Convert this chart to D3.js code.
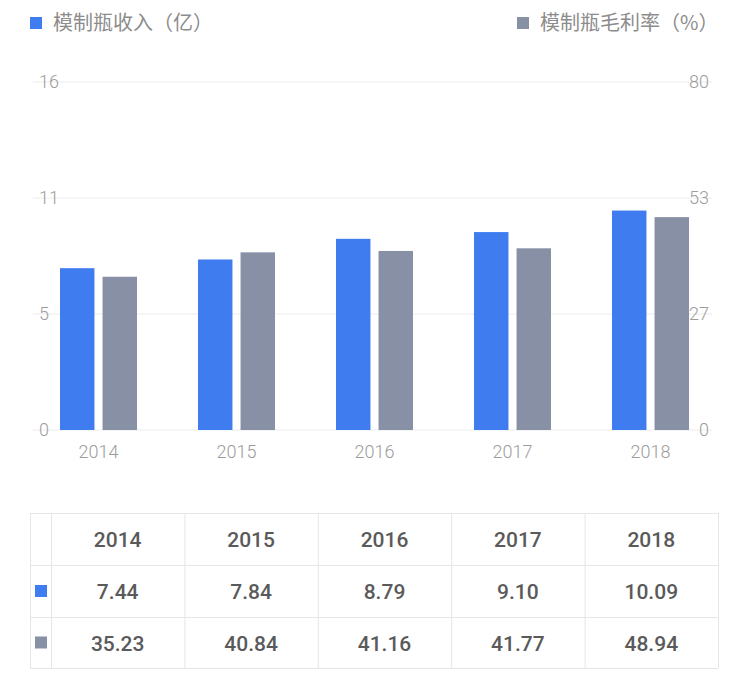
<!DOCTYPE html>
<html>
<head>
<meta charset="utf-8">
<script src="https://cdn.jsdelivr.net/npm/d3@7"></script>
<style>
  body { margin: 0; background: #fff; }
  text { font-family: "Noto Sans", "Noto Sans CJK SC", sans-serif; }
  .ax { font-family: Roboto, "Noto Sans", sans-serif; font-weight: 300; font-size: 18px; fill: #9c9c9c; }
</style>
</head>
<body>
<script>
const years = ["2014", "2015", "2016", "2017", "2018"];
const revenue = [7.44, 7.84, 8.79, 9.10, 10.09];   // 模制瓶收入（亿）
const margin = [35.23, 40.84, 41.16, 41.77, 48.94]; // 模制瓶毛利率（%）
const leftTicks = ["0", "5", "11", "16"];
const rightTicks = ["0", "27", "53", "80"];
const seriesNames = ["模制瓶收入（亿）", "模制瓶毛利率（%）"];

const blue = "#3f7cf0", grey = "#8790a4";

const width = 750, height = 673;
const svg = d3.select("body").append("svg")
    .attr("width", width)
    .attr("height", height);

// scales
const x = d3.scaleBand()
    .domain(years)
    .range([29.5, 719.5])
    .paddingInner(0.442)
    .paddingOuter(0.221);

const xs = d3.scaleBand()
    .domain([0, 1])
    .range([0, x.bandwidth()])
    .paddingInner(0.19);

const yL = d3.scaleLinear().domain([0, 16]).range([430, 82]);
const yR = d3.scaleLinear().domain([0, 80]).range([430, 82]);

// grid + tick labels
const gridVals = d3.range(4).map(i => i * 16 / 3);
svg.append("g").selectAll("line")
    .data(gridVals)
    .enter().append("line")
    .attr("x1", 33).attr("x2", 712)
    .attr("y1", d => yL(d)).attr("y2", d => yL(d))
    .attr("stroke", "#ececec")
    .attr("stroke-width", 1);

svg.append("g").selectAll("text")
    .data(leftTicks)
    .enter().append("text")
    .attr("class", "ax")
    .attr("x", 39)
    .attr("y", (d, i) => yL(gridVals[i]))
    .attr("dy", "0.35em")
    .text(d => d);

svg.append("g").selectAll("text")
    .data(rightTicks)
    .enter().append("text")
    .attr("class", "ax")
    .attr("x", 709)
    .attr("y", (d, i) => yR(i * 80 / 3))
    .attr("dy", "0.35em")
    .attr("text-anchor", "end")
    .text(d => d);

// bars
const groups = svg.append("g").selectAll(".grp")
    .data(years)
    .enter().append("g")
    .attr("class", "grp")
    .attr("transform", d => `translate(${x(d)},0)`);

groups.append("rect")
    .attr("x", xs(0))
    .attr("width", xs.bandwidth())
    .attr("y", (d, i) => yL(revenue[i]))
    .attr("height", (d, i) => yL(0) - yL(revenue[i]))
    .style("fill", blue);

groups.append("rect")
    .attr("x", xs(1))
    .attr("width", xs.bandwidth())
    .attr("y", (d, i) => yR(margin[i]))
    .attr("height", (d, i) => yR(0) - yR(margin[i]))
    .style("fill", grey);

groups.append("text")
    .attr("class", "ax")
    .attr("x", x.bandwidth() / 2)
    .attr("y", 452)
    .attr("dy", "0.35em")
    .attr("text-anchor", "middle")
    .text(d => d);

// legend
const legend = [[30, seriesNames[0], blue], [517, seriesNames[1], grey]];
legend.forEach(function (l) {
    svg.append("rect")
        .attr("x", l[0]).attr("y", 17)
        .attr("width", 12).attr("height", 12)
        .style("fill", l[2]);
    svg.append("text")
        .attr("x", l[0] + 23).attr("y", 23)
        .attr("dy", "0.35em")
        .style("font-family", "'Noto Sans CJK SC', sans-serif")
        .style("font-size", "20px")
        .style("fill", "#8c8c8c")
        .text(l[1]);
});

// data table
const tx0 = 30, tx1 = 51, tx2 = 718;
const colW = (tx2 - tx1) / years.length;
const rowY = [513, 565, 617, 668];
const tbl = svg.append("g").attr("stroke", "#e6e6e6").attr("stroke-width", 1);
rowY.forEach(function (y) {
    tbl.append("line").attr("x1", tx0).attr("x2", tx2).attr("y1", y + 0.5).attr("y2", y + 0.5);
});
[tx0, tx1].concat(years.map((d, i) => tx1 + colW * (i + 1))).forEach(function (xv) {
    tbl.append("line").attr("x1", xv + 0.5).attr("x2", xv + 0.5).attr("y1", rowY[0]).attr("y2", rowY[3]);
});

const rows = [years, revenue.map(v => v.toFixed(2)), margin.map(v => v.toFixed(2))];
rows.forEach(function (r, ri) {
    const cy = (rowY[ri] + rowY[ri + 1]) / 2 + 1;
    svg.append("g").selectAll("text")
        .data(r)
        .enter().append("text")
        .attr("x", (d, i) => tx1 + colW * (i + 0.5))
        .attr("y", cy)
        .attr("dy", "0.35em")
        .attr("text-anchor", "middle")
        .style("font-family", "Roboto, sans-serif")
        .style("font-weight", 500)
        .style("font-size", "21px")
        .style("fill", "#5a5a5a")
        .text(d => d);
});
[blue, grey].forEach(function (c, i) {
    svg.append("rect")
        .attr("x", 35)
        .attr("y", (rowY[i + 1] + rowY[i + 2]) / 2 - 6)
        .attr("width", 12).attr("height", 12)
        .style("fill", c);
});
</script>
</body>
</html>
